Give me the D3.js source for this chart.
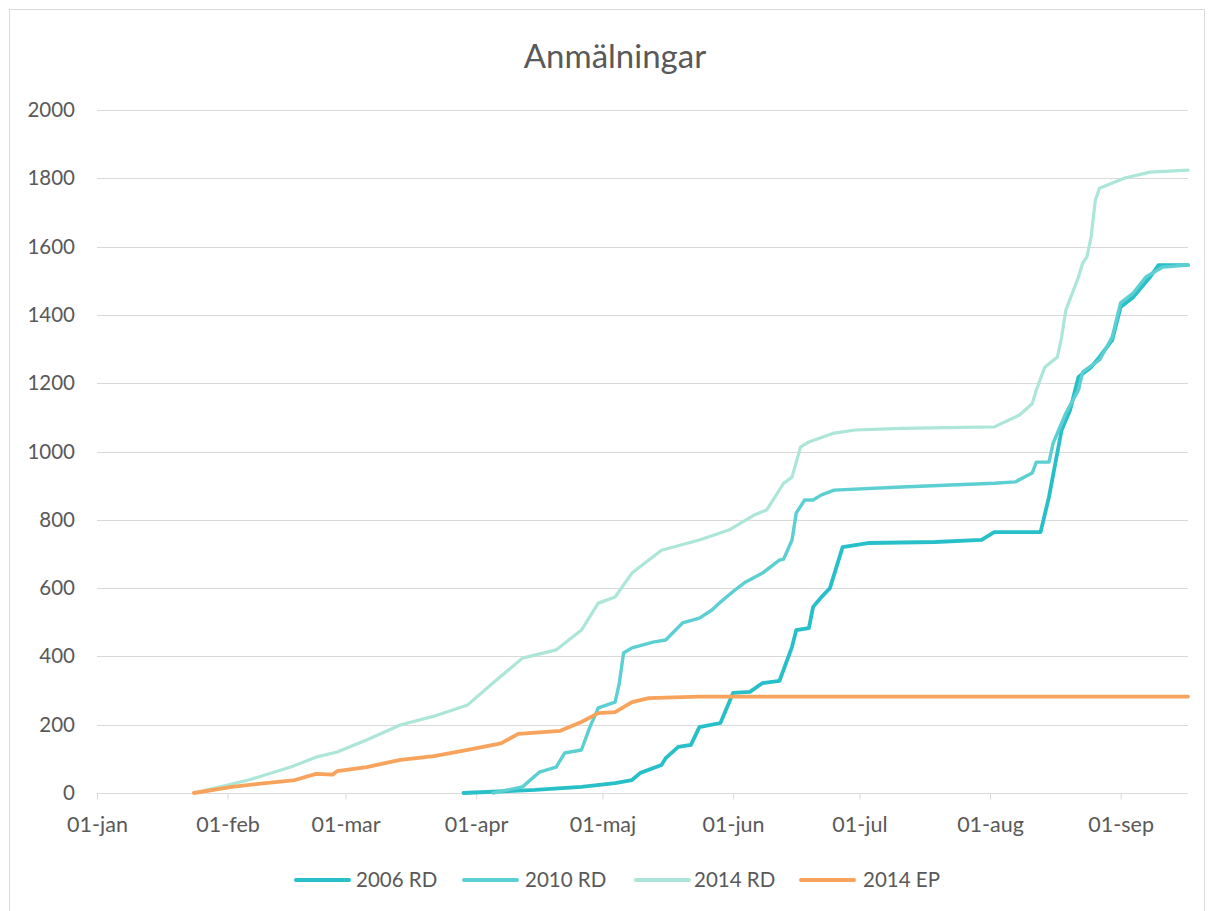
<!DOCTYPE html>
<html>
<head>
<meta charset="utf-8">
<script src="https://cdn.jsdelivr.net/npm/d3@7"></script>
<style>
  html, body { margin: 0; padding: 0; background: #ffffff; }
  svg { display: block; }
</style>
</head>
<body>
<svg id="chart" width="1208" height="911"></svg>
<script>
// ---- Data (dates mapped onto one calendar year, day-of-year comparison) ----
const title = "Anmälningar";
const seriesNames = ["2006 RD", "2010 RD", "2014 RD", "2014 EP"];
const monthTicks = ["2014-01-01","2014-02-01","2014-03-01","2014-04-01","2014-05-01","2014-06-01","2014-07-01","2014-08-01","2014-09-01"];
const monthLabels = ["01-jan","01-feb","01-mar","01-apr","01-maj","01-jun","01-jul","01-aug","01-sep"];
const yTicks = [0, 200, 400, 600, 800, 1000, 1200, 1400, 1600, 1800, 2000];

const rd2006 = [
  ["2014-03-29", 0], ["2014-04-15", 9], ["2014-04-26", 18], ["2014-05-04", 29], ["2014-05-08", 38],
  ["2014-05-10", 59], ["2014-05-15", 82], ["2014-05-16", 102], ["2014-05-19", 135], ["2014-05-22", 141],
  ["2014-05-24", 193], ["2014-05-29", 205], ["2014-06-01", 293], ["2014-06-05", 296], ["2014-06-08", 322],
  ["2014-06-12", 328], ["2014-06-15", 428], ["2014-06-16", 477], ["2014-06-19", 483], ["2014-06-20", 545],
  ["2014-06-22", 574], ["2014-06-24", 600], ["2014-06-27", 720], ["2014-07-03", 732], ["2014-07-19", 735],
  ["2014-07-30", 741], ["2014-08-02", 764], ["2014-08-13", 764], ["2014-08-15", 867], ["2014-08-18", 1063],
  ["2014-08-20", 1121], ["2014-08-22", 1218], ["2014-08-25", 1247], ["2014-08-27", 1277], ["2014-08-30", 1326],
  ["2014-09-01", 1423], ["2014-09-04", 1452], ["2014-09-08", 1511], ["2014-09-10", 1546], ["2014-09-17", 1546]
];
const rd2010 = [
  ["2014-04-05", 0], ["2014-04-12", 18], ["2014-04-16", 61], ["2014-04-20", 76], ["2014-04-22", 117],
  ["2014-04-26", 126], ["2014-04-28", 193], ["2014-04-30", 249], ["2014-05-04", 266], ["2014-05-05", 322],
  ["2014-05-06", 410], ["2014-05-08", 425], ["2014-05-13", 442], ["2014-05-16", 448], ["2014-05-20", 498],
  ["2014-05-24", 512], ["2014-05-27", 536], ["2014-05-29", 559], ["2014-06-01", 590], ["2014-06-04", 618],
  ["2014-06-08", 644], ["2014-06-12", 682], ["2014-06-13", 685], ["2014-06-15", 741], ["2014-06-16", 820],
  ["2014-06-18", 858], ["2014-06-20", 858], ["2014-06-22", 873], ["2014-06-25", 887], ["2014-07-11", 896],
  ["2014-08-02", 907], ["2014-08-07", 911], ["2014-08-11", 937], ["2014-08-12", 969], ["2014-08-15", 969],
  ["2014-08-16", 1025], ["2014-08-19", 1112], ["2014-08-22", 1180], ["2014-08-23", 1233], ["2014-08-27", 1268],
  ["2014-08-30", 1335], ["2014-09-01", 1435], ["2014-09-04", 1464], ["2014-09-07", 1511], ["2014-09-11", 1540],
  ["2014-09-17", 1546]
];
const rd2014 = [
  ["2014-01-25", 3], ["2014-02-06", 38], ["2014-02-16", 76], ["2014-02-22", 105], ["2014-02-27", 120],
  ["2014-03-06", 155], ["2014-03-14", 199], ["2014-03-22", 225], ["2014-03-30", 258], ["2014-04-05", 322],
  ["2014-04-12", 395], ["2014-04-20", 419], ["2014-04-26", 477], ["2014-04-30", 556], ["2014-05-04", 574],
  ["2014-05-08", 644], ["2014-05-15", 711], ["2014-05-24", 741], ["2014-05-31", 770], ["2014-06-06", 814],
  ["2014-06-09", 829], ["2014-06-13", 907], ["2014-06-15", 925], ["2014-06-17", 1013], ["2014-06-19", 1028],
  ["2014-06-25", 1054], ["2014-06-30", 1063], ["2014-07-11", 1068], ["2014-08-02", 1072], ["2014-08-08", 1107],
  ["2014-08-11", 1140], ["2014-08-12", 1180], ["2014-08-14", 1247], ["2014-08-17", 1277], ["2014-08-18", 1335],
  ["2014-08-19", 1414], ["2014-08-22", 1511], ["2014-08-23", 1552], ["2014-08-24", 1570], ["2014-08-25", 1628],
  ["2014-08-26", 1736], ["2014-08-27", 1771], ["2014-09-02", 1801], ["2014-09-08", 1818], ["2014-09-17", 1824]
];
const ep2014 = [
  ["2014-01-24", 0], ["2014-02-02", 18], ["2014-02-10", 29], ["2014-02-17", 38], ["2014-02-22", 56],
  ["2014-02-26", 54], ["2014-02-27", 64], ["2014-03-06", 76], ["2014-03-14", 97], ["2014-03-22", 108],
  ["2014-03-30", 126], ["2014-04-06", 143], ["2014-04-07", 146], ["2014-04-11", 173], ["2014-04-21", 182],
  ["2014-04-26", 208], ["2014-04-30", 234], ["2014-05-04", 237], ["2014-05-08", 266], ["2014-05-12", 278],
  ["2014-05-24", 282], ["2014-09-17", 282]
];

const seriesData = [rd2006, rd2010, rd2014, ep2014];
const seriesColors = ["#27bfc8", "#5ccfd2", "#abe6d8", "#f7a35c"];
const seriesWidths = [3.8, 3.4, 3.2, 3.8];

// ---- Drawing ----
const parse = d3.timeParse("%Y-%m-%d");
const svg = d3.select("#chart");
const font = "Lato, 'Open Sans', sans-serif";
const textColor = "#595959";

// chart frame
svg.append("rect")
  .attr("x", 9.5).attr("y", 9.5).attr("width", 1195).attr("height", 910)
  .attr("fill", "#ffffff").attr("stroke", "#d9d9d9").attr("stroke-width", 1);

const x = d3.scaleTime()
  .domain([parse("2014-01-01"), parse("2014-09-17")])
  .range([97, 1188]);
const y = d3.scaleLinear().domain([0, 2000]).range([793, 110]);

// title
svg.append("text")
  .attr("x", 615).attr("y", 68)
  .attr("text-anchor", "middle")
  .attr("font-family", font).attr("font-size", 33)
  .attr("fill", textColor)
  .text(title);

// gridlines
svg.append("g")
  .selectAll("line")
  .data(yTicks.filter(v => v > 0))
  .join("line")
  .attr("x1", 97).attr("x2", 1188)
  .attr("y1", d => Math.round(y(d)) + 0.5).attr("y2", d => Math.round(y(d)) + 0.5)
  .attr("stroke", "#d9d9d9").attr("stroke-width", 1);

// y axis labels
const yAxis = d3.axisLeft(y).tickValues(yTicks).tickFormat(d3.format("d")).tickSize(0).tickPadding(22);
const gy = svg.append("g").attr("transform", "translate(97,0)").call(yAxis);
gy.select(".domain").remove();
gy.selectAll("text")
  .attr("font-family", font).attr("font-size", 20.5).attr("fill", textColor);

// x axis
const tickDates = monthTicks.map(parse);
const xAxis = d3.axisBottom(x)
  .tickValues(tickDates)
  .tickFormat((d, i) => monthLabels[i])
  .tickSizeInner(6).tickSizeOuter(0).tickPadding(17);
const gx = svg.append("g").attr("transform", `translate(0,${Math.round(y(0)) + 0.5})`).call(xAxis);
gx.select(".domain").attr("stroke", "#d9d9d9").attr("d", "M97,0H1188");
gx.selectAll(".tick line").attr("stroke", "#d9d9d9");
gx.selectAll("text")
  .attr("font-family", font).attr("font-size", 21.5).attr("fill", textColor);

// lines
const line = d3.line()
  .x(d => x(parse(d[0])))
  .y(d => y(d[1]));

svg.append("g")
  .selectAll("path")
  .data(seriesData)
  .join("path")
  .attr("d", d => line(d))
  .attr("fill", "none")
  .attr("stroke", (d, i) => seriesColors[i])
  .attr("stroke-width", (d, i) => seriesWidths[i])
  .attr("stroke-linejoin", "round")
  .attr("stroke-linecap", "round");

// legend
const legendItems = [
  { lx: 296, tx: 356 },
  { lx: 464, tx: 525 },
  { lx: 636, tx: 694 },
  { lx: 801, tx: 863 }
];
const lg = svg.append("g");
seriesNames.forEach((name, i) => {
  const it = legendItems[i];
  lg.append("line")
    .attr("x1", it.lx).attr("x2", it.lx + 53)
    .attr("y1", 880).attr("y2", 880)
    .attr("stroke", seriesColors[i]).attr("stroke-width", 4)
    .attr("stroke-linecap", "round");
  lg.append("text")
    .attr("x", it.tx).attr("y", 887)
    .attr("font-family", font).attr("font-size", 20.5).attr("fill", textColor)
    .text(name);
});
</script>
</body>
</html>
